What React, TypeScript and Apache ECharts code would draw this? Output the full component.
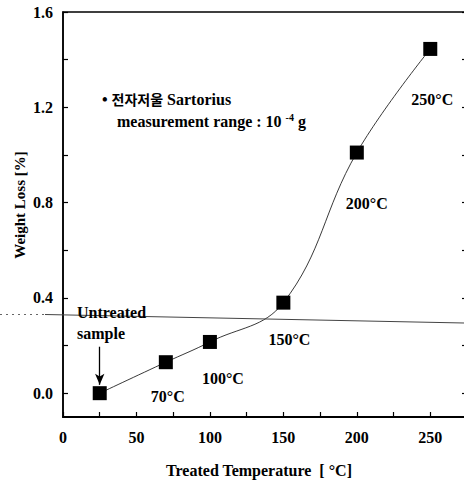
import React, { useEffect, useRef } from "react";
import * as echarts from "echarts";

const temperatures = [25, 70, 100, 150, 200, 250];
const weightLoss = [0.0, 0.13, 0.215, 0.38, 1.01, 1.445];
const pointLabels = ["", "70°C", "100°C", "150°C", "200°C", "250°C"];
const xTickValues = [0, 25, 50, 75, 100, 125, 150, 175, 200, 225, 250, 275];
const xLabelValues = [0, 50, 100, 150, 200, 250];
const yTickValues = [0, 0.2, 0.4, 0.6, 0.8, 1.0, 1.2, 1.4, 1.6];
const yLabelValues = [0, 0.4, 0.8, 1.2, 1.6];
const untreatedArrow = [
  [25, 0.195],
  [25, 0.035],
];

const SERIF = "Liberation Serif";

export default function App() {
  const ref = useRef<HTMLDivElement>(null);

  useEffect(() => {
    if (!ref.current) return;
    const chart = echarts.init(ref.current, null, { renderer: "svg" });

    const labelOffsets = [
      [0, 0],
      [2, 34],
      [13, 37],
      [6, 37],
      [10, 51],
      [2, 51],
    ];

    const data = temperatures.map((t, i) => ({
      value: [t, weightLoss[i]],
      label: {
        show: pointLabels[i] !== "",
        formatter: pointLabels[i],
        position: "inside",
        offset: labelOffsets[i],
        fontFamily: SERIF,
        fontWeight: "bold",
        fontSize: 16,
        color: "#000",
      },
    }));

    const textBase = {
      fontFamily: SERIF,
      fontWeight: "bold",
      fontSize: 16,
      fill: "#000",
    };

    chart.setOption({
      animation: false,
      backgroundColor: "#fff",
      textStyle: { fontFamily: SERIF },
      grid: {
        left: 63,
        top: 12,
        right: 3,
        bottom: 67,
        show: true,
        borderColor: "#000",
        borderWidth: 1.5,
      },
      xAxis: {
        type: "value",
        min: 0,
        max: 275,
        axisLine: { show: true, onZero: false, lineStyle: { color: "#000", width: 2 } },
        axisTick: {
          show: true,
          inside: true,
          length: 5,
          customValues: xTickValues,
          lineStyle: { color: "#000", width: 1.2 },
        },
        axisLabel: {
          customValues: xLabelValues,
          margin: 12,
          fontFamily: SERIF,
          fontWeight: "bold",
          fontSize: 16,
          color: "#000",
        },
        splitLine: { show: false },
      },
      yAxis: [
        {
          type: "value",
          min: -0.1,
          max: 1.6,
          axisLine: { show: true, onZero: false, lineStyle: { color: "#000", width: 1.5 } },
          axisTick: {
            show: true,
            inside: true,
            length: 5,
            customValues: yTickValues,
            lineStyle: { color: "#000", width: 1.2 },
          },
          axisLabel: {
            customValues: yLabelValues,
            margin: 10,
            formatter: (v: number) => v.toFixed(1),
            fontFamily: SERIF,
            fontWeight: "bold",
            fontSize: 16,
            color: "#000",
          },
          splitLine: { show: false },
        },
        {
          type: "value",
          position: "right",
          min: -0.1,
          max: 1.6,
          axisLine: { show: true, onZero: false, lineStyle: { color: "#000", width: 1.5 } },
          axisTick: {
            show: true,
            inside: true,
            length: 5,
            customValues: yTickValues,
            lineStyle: { color: "#000", width: 1.2 },
          },
          axisLabel: { show: false },
          splitLine: { show: false },
        },
      ],
      series: [
        {
          type: "line",
          data,
          smooth: 0.4,
          symbol: "rect",
          symbolSize: 14,
          itemStyle: { color: "#000" },
          lineStyle: { color: "#222", width: 0.9 },
          markLine: {
            silent: true,
            symbol: ["none", "arrow"],
            symbolSize: [7, 11],
            label: { show: false },
            lineStyle: { color: "#000", width: 1.3, type: "solid" },
            data: [
              [
                { coord: untreatedArrow[0] },
                { coord: untreatedArrow[1] },
              ],
            ],
          },
        },
      ],
      graphic: [
        {
          type: "line",
          shape: { x1: 0, y1: 314.5, x2: 45, y2: 314.5 },
          style: { stroke: "#666", lineWidth: 1, lineDash: [2, 4] },
          z: 100,
        },
        {
          type: "line",
          shape: { x1: 45, y1: 314.5, x2: 464, y2: 323 },
          style: { stroke: "#444", lineWidth: 1 },
          z: 100,
        },
        {
          type: "text",
          left: 77,
          top: 304,
          style: { ...textBase, text: "Untreated" },
          z: 101,
        },
        {
          type: "text",
          left: 77,
          top: 325,
          style: { ...textBase, text: "sample" },
          z: 101,
        },
        {
          type: "text",
          left: 102,
          top: 91,
          style: {
            text: "{t|• }{k|전자저울}{t| Sartorius}",
            rich: {
              t: { fontFamily: SERIF, fontWeight: "bold", fontSize: 16, color: "#000" },
              k: {
                fontFamily: "Noto Sans CJK KR",
                fontWeight: "bold",
                fontSize: 14,
                color: "#000",
              },
            },
          },
          z: 101,
        },
        {
          type: "text",
          left: 117,
          top: 112,
          style: {
            text: "{t|measurement range : 10 }{s|-4}{t| g}",
            rich: {
              t: { fontFamily: SERIF, fontWeight: "bold", fontSize: 16, color: "#000", lineHeight: 18 },
              s: {
                fontFamily: SERIF,
                fontWeight: "bold",
                fontSize: 10,
                color: "#000",
                verticalAlign: "top",
                lineHeight: 18,
              },
            },
          },
          z: 101,
        },
        {
          type: "text",
          x: 20,
          y: 205,
          rotation: Math.PI / 2,
          style: {
            ...textBase,
            fontSize: 15,
            text: "Weight Loss [%]",
            align: "center",
            verticalAlign: "middle",
          },
        },
        {
          type: "text",
          x: 259,
          y: 470,
          style: {
            ...textBase,
            text: "Treated Temperature  [ °C]",
            align: "center",
            verticalAlign: "middle",
          },
        },
      ],
    });

    return () => chart.dispose();
  }, []);

  return (
    <div
      ref={ref}
      style={{ position: "fixed", left: 0, top: 0, width: 470, height: 484 }}
    />
  );
}
